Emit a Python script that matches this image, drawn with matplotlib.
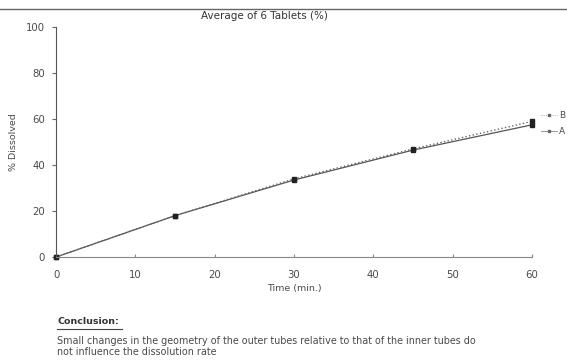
import matplotlib.pyplot as plt

# dissolution data
time_min = [0, 15, 30, 45, 60]
pct_A = [0, 18, 33.5, 46.5, 57.5]
pct_B = [0, 18, 34, 47, 59]
xticks = [0, 10, 20, 30, 40, 50, 60]
yticks = [0, 20, 40, 60, 80, 100]
series_names = ['B', 'A']
series_styles = [':', '-']

txt = '#4a4a4a'
plt.rcParams['font.family'] = 'DejaVu Sans'

fig = plt.figure(figsize=(5.67, 3.62), dpi=100)
ax = fig.add_axes([0.099, 0.29, 0.839, 0.635])

ax.plot(time_min, pct_A, '-', color='#555555', lw=0.9, marker='s', ms=3.5,
        mfc='#222222', mec='#222222', clip_on=False)
ax.plot(time_min, pct_B, ':', color='#666666', lw=1.0, marker='s', ms=3.5,
        mfc='#222222', mec='#222222', clip_on=False)

ax.set_xlim(0, 60)
ax.set_ylim(0, 100)
ax.set_xticks(xticks)
ax.set_yticks(yticks)
ax.spines['top'].set_visible(False)
ax.spines['right'].set_visible(False)
ax.spines['left'].set_color('#555555')
ax.spines['bottom'].set_color('#888888')
ax.spines['left'].set_linewidth(0.8)
ax.spines['bottom'].set_linewidth(0.8)
ax.tick_params(axis='y', direction='out', length=3, color='#666666', labelsize=7.3, labelcolor=txt, pad=5)
ax.tick_params(axis='x', direction='in', length=2, color='#888888', labelsize=7.3, labelcolor=txt, pad=9)
ax.set_xlabel('Time (min.)', fontsize=6.8, color=txt, labelpad=3)
ax.set_ylabel('% Dissolved', fontsize=6.8, color=txt, labelpad=6)

# legend drawn by hand at right of the plot
for ypix, name, ls in zip([115, 131], series_names, series_styles):
    yf = 1 - ypix / 362
    fig.lines.append(plt.Line2D([0.955, 0.982], [yf, yf], transform=fig.transFigure,
                                color='#888888', lw=0.6, ls=ls))
    fig.lines.append(plt.Line2D([0.968], [yf], transform=fig.transFigure, ls='none',
                                marker='s', ms=2, mfc='#666666', mec='#666666'))
    fig.text(0.986, yf, name, fontsize=6.5, color=txt, va='center')

fig.text(0.467, 1 - 16/362, 'Average of 6 Tablets (%)', fontsize=7.5, color='#333333', ha='center', va='center')

# scanned page border and notes
fig.lines.append(plt.Line2D([0.0, 1.0], [1 - 9/362] * 2, transform=fig.transFigure, color='#666666', lw=1.0))
fig.text(0.101, 1 - 322/362, 'Conclusion:', fontsize=6.8, color='#333333', weight='bold', va='center')
fig.lines.append(plt.Line2D([0.101, 0.216], [1 - 329/362] * 2, transform=fig.transFigure, color='#444444', lw=0.8))
fig.text(0.101, 1 - 341/362, 'Small changes in the geometry of the outer tubes relative to that of the inner tubes do',
         fontsize=6.9, color=txt, va='center')
fig.text(0.101, 1 - 352/362, 'not influence the dissolution rate',
         fontsize=6.9, color=txt, va='center')

fig.savefig('out.png', dpi=100)
